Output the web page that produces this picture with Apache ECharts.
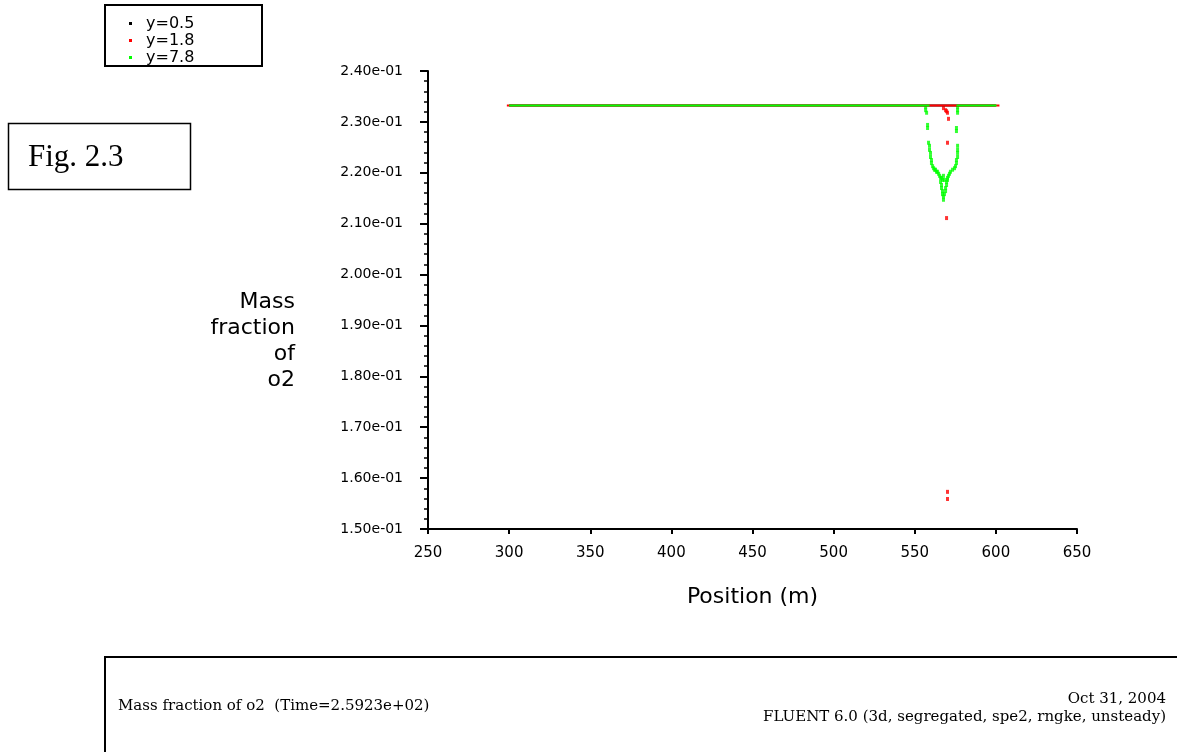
<!DOCTYPE html>
<html>
<head>
<meta charset="utf-8">
<script src="https://cdn.jsdelivr.net/npm/echarts@6/dist/echarts.min.js"></script>
<style>
html,body{margin:0;padding:0;background:#fff;}
#chart{width:1177px;height:752px;}
</style>
</head>
<body>
<div id="chart"></div>
<script>
// ---- data ----
const seriesNames = ['y=0.5', 'y=1.8', 'y=7.8'];
// flat profile ends (x positions), level 0.2332
const flatY05 = [[300, 0.2332], [600, 0.2332]];
const flatY18 = [[298.6, 0.2332], [602.2, 0.2332]];
const flatY78Left = [[300, 0.2332], [559.1, 0.2332]];
const flatY78Right = [[575.7, 0.2332], [600.4, 0.2332]];
// scattered cell values off the flat profile
const dotsY18 = [
  [567.7, 0.2327], [569.0, 0.2323], [569.6, 0.2321], [570.2, 0.2318],
  [570.8, 0.2306], [570.2, 0.2259], [569.6, 0.2111],
  [570.2, 0.1573], [570.2, 0.1559]
];
const dotsY78 = [
  [556.7, 0.2329], [556.7, 0.2323], [557.3, 0.2318], [557.9, 0.2294], [557.9, 0.2288],
  [558.5, 0.2259], [559.1, 0.2253], [559.1, 0.2245], [559.7, 0.2239], [559.7, 0.2231],
  [560.3, 0.2225], [560.3, 0.2219], [561.0, 0.2213], [561.6, 0.2209], [562.2, 0.2206],
  [562.8, 0.2206], [563.4, 0.2202], [564.0, 0.2202], [564.7, 0.2198], [565.3, 0.2194],
  [565.9, 0.2190], [565.9, 0.2182], [566.5, 0.2176], [566.5, 0.2170], [567.1, 0.2164],
  [567.1, 0.2158], [567.7, 0.2153], [567.7, 0.2147],
  [576.4, 0.2329], [576.4, 0.2323], [576.4, 0.2318], [575.7, 0.2288], [575.7, 0.2282],
  [576.4, 0.2253], [576.4, 0.2245], [576.4, 0.2239], [576.4, 0.2231], [575.7, 0.2225],
  [575.7, 0.2219], [575.1, 0.2213], [574.5, 0.2209], [573.3, 0.2206], [572.0, 0.2202],
  [571.4, 0.2198], [570.8, 0.2194], [570.2, 0.2190], [570.2, 0.2186], [569.6, 0.2182],
  [569.6, 0.2176], [569.0, 0.2170], [569.0, 0.2164], [568.3, 0.2158],
  [566.5, 0.2190], [567.7, 0.2194], [567.1, 0.2186], [568.3, 0.2186]
];
const xTicks = {min: 250, max: 650, step: 50};
const yTicks = {min: 0.15, max: 0.24, step: 0.01};
const xAxisTitle = 'Position (m)';
const yAxisTitle = 'Mass\nfraction\nof\no2';
const footerLeft = 'Mass fraction of o2  (Time=2.5923e+02)';
const footerDate = 'Oct 31, 2004';
const footerSolver = 'FLUENT 6.0 (3d, segregated, spe2, rngke, unsteady)';
const figLabel = 'Fig. 2.3';

// ---- chart ----
const colors = {'y=0.5': '#000000', 'y=1.8': '#ff0000', 'y=7.8': '#00ff00'};
function fmtExp(v) {
  const s = Number(v).toExponential(2);
  return s.replace(/e([+-])(\d)$/, 'e$10$2');
}
function lineSeries(name, data) {
  return {
    name: name, type: 'line', data: data, symbol: 'none',
    lineStyle: {color: colors[name], width: 2},
    itemStyle: {color: colors[name]},
    silent: true, animation: false
  };
}
function dotSeries(name, data) {
  return {
    name: name, type: 'scatter', data: data, symbol: 'rect', symbolSize: [3, 4],
    itemStyle: {color: colors[name]}, silent: true, animation: false
  };
}
const chart = echarts.init(document.getElementById('chart'), null, {renderer: 'canvas'});
chart.setOption({
  backgroundColor: '#ffffff',
  animation: false,
  grid: {left: 428, right: 100, top: 71, bottom: 223, containLabel: false},
  legend: {
    data: seriesNames,
    orient: 'vertical',
    left: 124, top: 10,
    icon: 'rect', itemWidth: 3, itemHeight: 3, itemGap: 0,
    selectedMode: false,
    textStyle: {fontFamily: 'DejaVu Sans', fontSize: 16, color: '#000', lineHeight: 17, padding: [0, 0, 0, 9]}
  },
  xAxis: {
    type: 'value', min: xTicks.min, max: xTicks.max, interval: xTicks.step,
    name: xAxisTitle, nameLocation: 'middle', nameGap: 57,
    nameTextStyle: {fontFamily: 'DejaVu Sans', fontSize: 22, color: '#000'},
    axisLine: {lineStyle: {color: '#000', width: 2}},
    axisTick: {show: true, length: 5, lineStyle: {color: '#000', width: 2}},
    axisLabel: {fontFamily: 'DejaVu Sans', fontSize: 15, color: '#000', margin: 17},
    splitLine: {show: false}
  },
  yAxis: {
    type: 'value', min: yTicks.min, max: yTicks.max, interval: yTicks.step,
    axisLine: {lineStyle: {color: '#000', width: 2}},
    axisTick: {show: true, length: 8, lineStyle: {color: '#000', width: 2}},
    minorTick: {show: true, splitNumber: 5, length: 4, lineStyle: {color: '#000', width: 1.5}},
    axisLabel: {fontFamily: 'DejaVu Sans', fontSize: 14, color: '#000', margin: 25, formatter: fmtExp},
    splitLine: {show: false}
  },
  series: [
    lineSeries('y=0.5', flatY05),
    lineSeries('y=1.8', flatY18),
    dotSeries('y=1.8', dotsY18),
    lineSeries('y=7.8', flatY78Left),
    lineSeries('y=7.8', flatY78Right),
    dotSeries('y=7.8', dotsY78)
  ],
  graphic: [
    {type: 'text', x: 295, y: 289, style: {text: yAxisTitle, font: '22px "DejaVu Sans"', lineHeight: 26, fill: '#000', textAlign: 'right', textVerticalAlign: 'top'}, silent: true},
    {type: 'rect', shape: {x: 105, y: 5, width: 157, height: 61}, style: {fill: 'none', stroke: '#000', lineWidth: 2}, silent: true},
    {type: 'rect', shape: {x: 8.5, y: 123.5, width: 182, height: 66}, style: {fill: '#fff', stroke: '#000', lineWidth: 1.5}, silent: true},
    {type: 'text', left: 28, top: 142, style: {text: figLabel, font: '31px "Liberation Serif"', fill: '#000'}, silent: true},
    {type: 'rect', shape: {x: 105, y: 657, width: 1100, height: 120}, style: {fill: 'none', stroke: '#000', lineWidth: 2}, silent: true},
    {type: 'text', x: 118, y: 706, style: {text: footerLeft, font: '15px "DejaVu Serif"', fill: '#000', textVerticalAlign: 'middle'}, silent: true},
    {type: 'text', x: 1166, y: 699, style: {text: footerDate, font: '15px "DejaVu Serif"', fill: '#000', textAlign: 'right', textVerticalAlign: 'middle'}, silent: true},
    {type: 'text', x: 1166, y: 717, style: {text: footerSolver, font: '15px "DejaVu Serif"', fill: '#000', textAlign: 'right', textVerticalAlign: 'middle'}, silent: true}
  ]
});
</script>
</body>
</html>
